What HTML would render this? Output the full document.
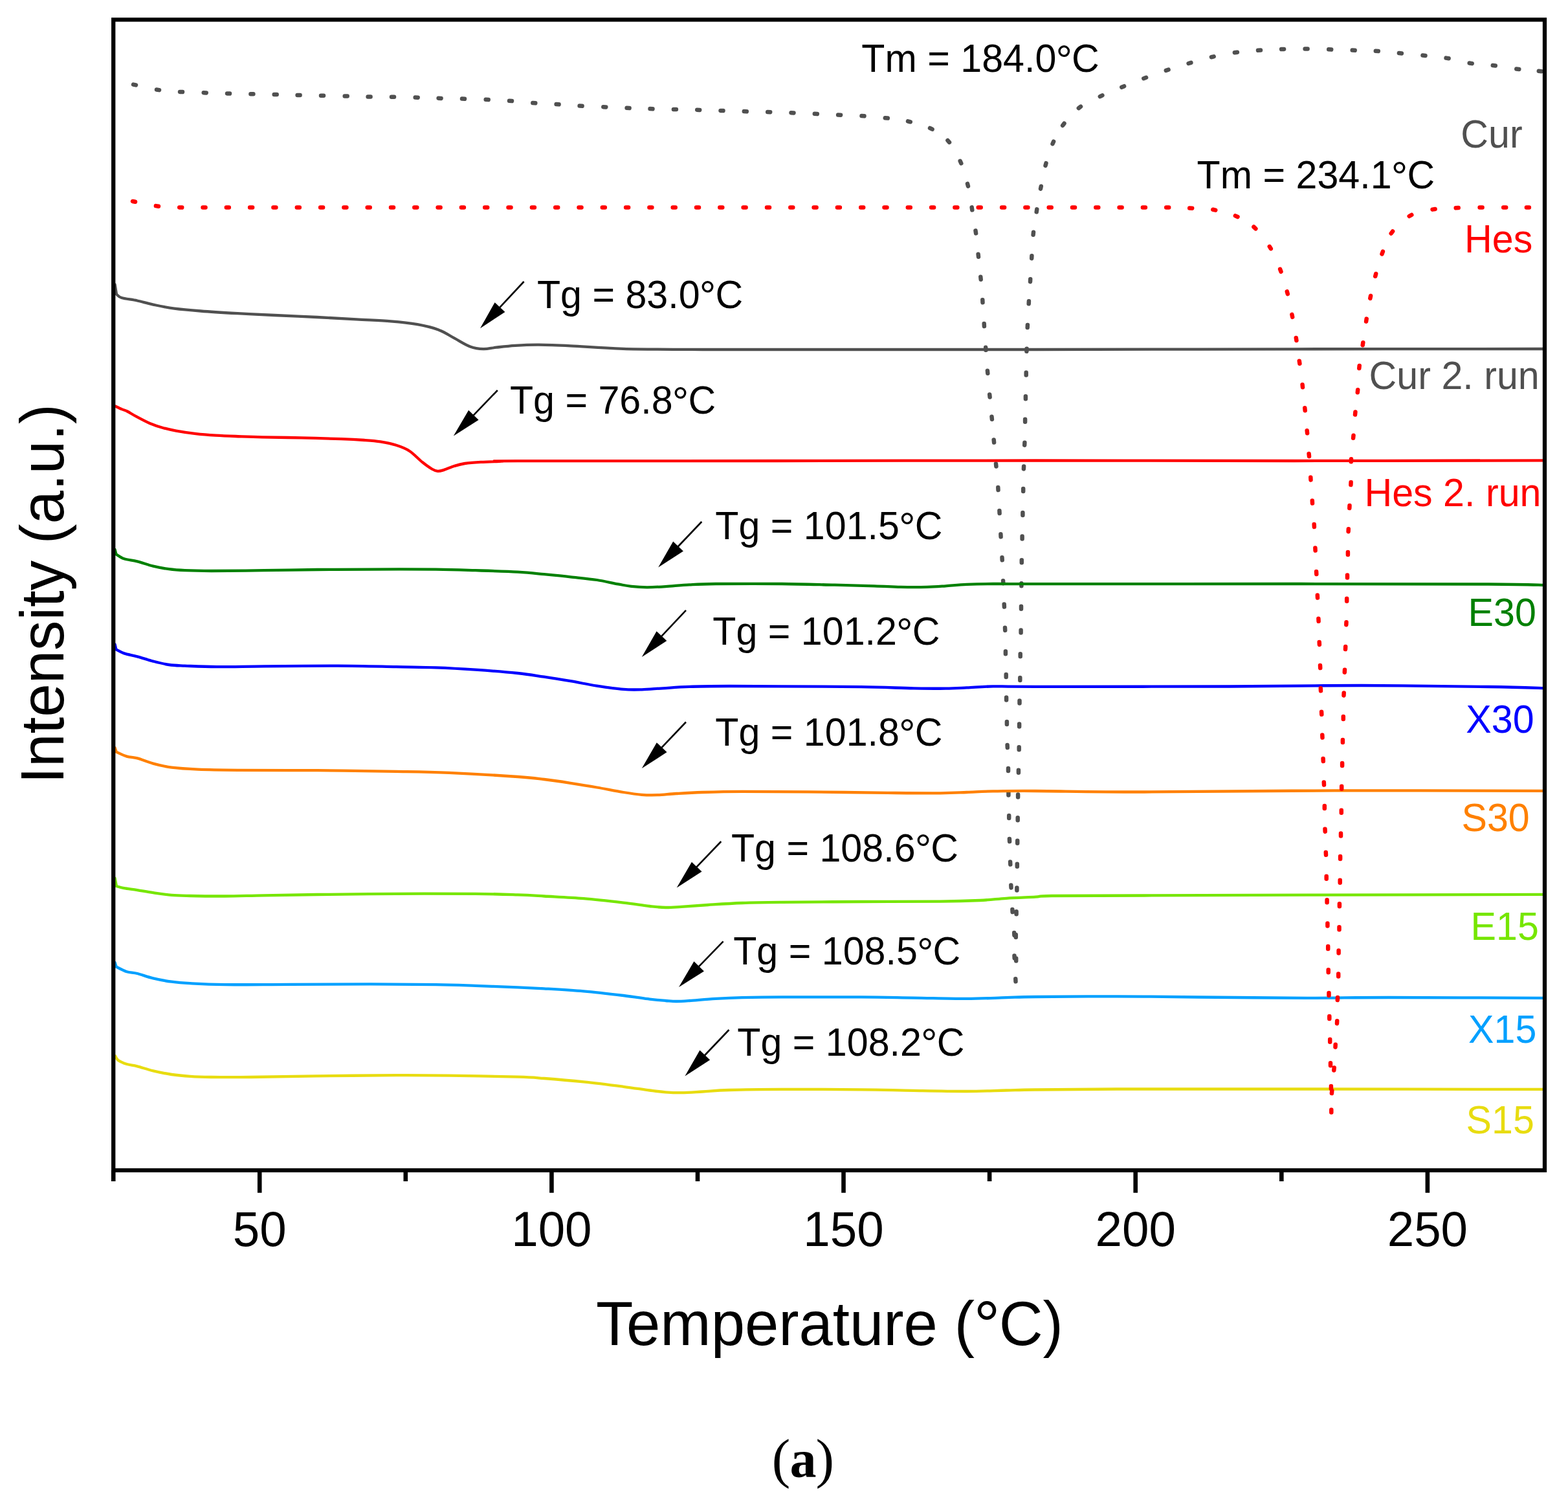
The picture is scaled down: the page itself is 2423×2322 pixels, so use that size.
<!DOCTYPE html>
<html lang="en"><head><meta charset="utf-8"><title>DSC thermograms</title>
<style>html,body{margin:0;padding:0;background:#fff}body{width:2423px;height:2322px;overflow:hidden}svg{display:block}text{font-family:"Liberation Sans",Arial,Helvetica,sans-serif;}.cap{font-family:"Liberation Serif","Times New Roman",serif}</style></head><body>
<svg width="2423" height="2322" viewBox="0 0 2423 2322">
<rect x="0" y="0" width="2423" height="2322" fill="#fff"/>
<defs><clipPath id="plot"><rect x="175.2" y="30.4" width="2211.8" height="1777.6"/></clipPath></defs>
<g clip-path="url(#plot)" fill="none" stroke-linecap="round" stroke-linejoin="round">
<path d="M206.0 130.6 L210.0 131.4 M242.0 138.5 L246.0 139.1 M278.0 141.9 L282.0 142.1 M314.7 143.2 L318.7 143.4 M351.0 144.4 L355.0 144.6 M387.4 145.3 L391.4 145.3 M423.7 146.1 L427.7 146.1 M459.6 146.9 L463.6 146.9 M496.0 147.8 L500.0 147.8 M532.7 148.6 L536.7 148.6 M568.6 149.4 L572.6 149.4 M605.0 149.8 L609.0 149.8 M641.7 150.5 L645.7 150.7 M677.6 151.7 L681.6 151.9 M714.0 152.6 L718.0 152.8 M750.7 153.8 L754.7 154.0 M787.0 155.8 L791.0 156.0 M823.3 159.1 L827.3 159.3 M859.6 161.1 L863.6 161.3 M895.6 163.6 L899.6 163.8 M932.3 165.2 L936.3 165.4 M968.6 166.8 L972.6 167.0 M1004.5 168.1 L1008.5 168.3 M1040.9 169.0 L1044.9 169.0 M1077.2 169.7 L1081.2 169.9 M1113.5 170.9 L1117.5 171.1 M1149.8 172.1 L1153.8 172.3 M1186.2 173.0 L1190.2 173.2 M1222.5 174.2 L1226.5 174.4 M1258.8 175.8 L1262.8 176.0 M1295.1 177.5 L1299.1 177.7 M1331.5 179.1 L1335.5 179.3 M1367.8 182.2 L1371.8 182.6 M1403.0 187.3 L1406.8 188.3 M1437.0 197.9 L1440.6 199.7 M1464.4 216.9 L1467.0 219.9 M1483.7 248.8 L1485.3 252.4 M1495.0 283.8 L1496.0 287.6 M1501.7 320.4 L1502.3 324.4 M1507.5 356.4 L1508.1 360.4 M1511.6 392.7 L1512.0 396.7 M1515.3 427.8 L1515.7 431.8 M1518.3 463.3 L1518.5 467.3 M1520.7 500.0 L1520.9 504.0 M1523.2 536.8 L1523.4 540.8 M1525.9 572.7 L1526.3 576.7 M1529.2 609.4 L1529.6 613.4 M1532.5 643.7 L1532.9 647.7 M1535.7 679.6 L1536.1 683.6 M1539.0 716.4 L1539.4 720.4 M1542.3 753.1 L1542.5 757.1 M1544.4 789.0 L1544.6 793.0 M1546.4 825.3 L1546.6 829.3 M1548.5 861.3 L1548.7 865.3 M1550.1 897.2 L1550.3 901.2 M1551.7 933.5 L1551.9 937.5 M1553.0 969.8 L1553.2 973.8 M1553.9 1006.2 L1553.9 1010.2 M1554.7 1042.0 L1554.7 1046.0 M1555.1 1077.6 L1555.1 1081.6 M1555.9 1115.0 L1555.9 1119.0 M1556.6 1151.0 L1556.8 1155.0 M1558.0 1187.0 L1558.0 1191.0 M1558.4 1224.5 L1558.4 1228.5 M1559.2 1260.0 L1559.2 1264.0 M1559.9 1296.0 L1560.1 1300.0 M1561.1 1331.5 L1561.3 1335.5 M1562.3 1367.4 L1562.5 1371.4 M1564.4 1405.0 L1564.6 1409.0 M1567.2 1440.9 L1567.4 1444.9 M1567.5 1476.4 L1567.7 1480.4 M1569.3 1512.3 L1569.5 1516.3 M1570.2 1484.6 L1570.2 1480.6 M1569.8 1448.0 L1569.8 1444.0 M1570.6 1412.2 L1570.6 1408.2 M1571.4 1375.5 L1571.4 1371.5 M1571.8 1338.7 L1571.8 1334.7 M1572.2 1302.8 L1572.2 1298.8 M1572.7 1267.3 L1572.7 1263.3 M1573.1 1231.4 L1573.1 1227.4 M1573.9 1193.8 L1573.9 1189.8 M1574.7 1158.3 L1574.7 1154.3 M1575.1 1122.4 L1575.1 1118.4 M1575.5 1086.5 L1575.5 1082.5 M1576.3 1051.0 L1576.3 1047.0 M1576.7 1014.2 L1576.7 1010.2 M1577.6 977.5 L1577.6 973.5 M1578.0 940.8 L1578.0 936.8 M1578.4 905.3 L1578.4 901.3 M1578.8 869.3 L1578.8 865.3 M1579.6 832.6 L1579.6 828.6 M1580.4 795.9 L1580.4 791.9 M1581.2 759.1 L1581.2 755.1 M1581.9 724.4 L1582.1 720.4 M1583.2 687.7 L1583.4 683.7 M1584.1 651.8 L1584.1 647.8 M1584.9 616.3 L1584.9 612.3 M1585.7 579.5 L1585.7 575.5 M1586.4 542.8 L1586.6 538.8 M1587.7 506.0 L1587.9 502.0 M1589.7 469.3 L1589.9 465.3 M1592.0 435.2 L1592.2 431.2 M1594.2 399.2 L1594.4 395.2 M1596.6 362.8 L1597.0 358.8 M1601.7 327.4 L1602.3 323.4 M1608.0 291.7 L1608.8 287.7 M1615.5 255.9 L1616.5 252.1 M1626.5 222.2 L1628.1 218.6 M1642.1 193.9 L1644.5 190.7 M1666.8 167.1 L1670.0 164.7 M1699.8 149.1 L1703.4 147.3 M1733.3 134.8 L1737.1 133.2 M1767.3 121.2 L1771.1 119.8 M1801.8 108.9 L1805.6 107.7 M1836.6 98.0 L1840.4 96.8 M1871.9 88.2 L1875.7 87.4 M1907.9 81.3 L1911.9 80.7 M1944.0 77.8 L1948.0 77.6 M1980.1 76.1 L1984.1 75.9 M2016.6 75.6 L2020.6 75.6 M2053.2 76.3 L2057.2 76.5 M2089.7 77.6 L2093.7 77.8 M2125.8 78.8 L2129.8 79.0 M2161.9 82.1 L2165.9 82.5 M2198.5 85.5 L2202.5 85.9 M2234.6 89.6 L2238.6 90.2 M2270.7 97.5 L2274.7 98.1 M2306.8 101.0 L2310.8 101.4 M2343.3 106.5 L2347.3 106.9 M2377.8 109.8 L2381.8 110.2" stroke="#505050" stroke-width="6.5"/>
<path d="M177.6 439.5 L180.0 454.5 M180.0 454.5 C181.3 455.4 182.5 458.3 187.8 460.0 C193.1 461.7 203.8 462.7 212.0 464.5 C220.2 466.3 227.1 468.6 236.7 470.6 C246.3 472.6 257.2 475.0 269.4 476.6 C281.6 478.2 293.7 479.2 310.0 480.5 C326.3 481.8 347.9 483.1 367.0 484.2 C386.1 485.3 404.0 486.0 424.5 487.0 C445.0 488.0 468.9 488.9 490.0 490.0 C511.1 491.1 532.0 492.2 551.0 493.3 C570.0 494.4 588.3 495.0 604.0 496.3 C619.7 497.6 632.8 499.0 645.0 501.2 C657.2 503.4 668.0 505.9 677.5 509.4 C687.0 512.9 693.8 518.0 702.0 522.4 C710.2 526.8 719.0 532.7 726.5 535.5 C734.0 538.3 740.2 539.0 747.0 539.2 C753.8 539.4 758.8 537.6 767.0 536.7 C775.2 535.8 785.0 534.6 796.0 533.9 C807.0 533.2 818.4 532.6 832.7 532.7 C847.0 532.8 859.9 533.3 881.6 534.3 C903.3 535.3 929.0 537.8 963.0 538.8 C997.0 539.8 1029.5 539.8 1085.7 540.0 C1141.9 540.2 1214.3 540.0 1300.0 540.0 C1385.7 540.0 1483.3 540.1 1600.0 540.0 C1716.7 539.9 1868.3 539.5 2000.0 539.3 C2131.7 539.1 2325.0 539.0 2390.0 539.0" stroke="#505050" stroke-width="4.3"/>
<path d="M176.0 626.4 C176.4 626.6 176.3 626.6 178.4 627.6 C180.5 628.6 185.6 631.1 188.6 632.4 C191.6 633.7 193.0 633.6 196.7 635.5 C200.4 637.4 205.2 640.6 211.0 643.7 C216.8 646.8 224.6 651.1 231.4 654.0 C238.2 656.9 245.0 659.1 251.8 661.0 C258.6 662.9 263.7 664.1 272.2 665.6 C280.7 667.1 292.7 669.0 302.9 670.2 C313.1 671.4 323.3 672.1 333.5 672.7 C343.7 673.3 352.2 673.6 364.1 674.0 C376.0 674.4 387.9 674.9 404.9 675.3 C421.9 675.7 445.7 675.9 466.1 676.4 C486.5 676.9 511.1 677.5 527.3 678.1 C543.5 678.7 553.2 679.3 563.3 680.0 C573.4 680.7 579.6 681.1 587.8 682.4 C595.9 683.7 604.7 685.4 612.2 687.8 C619.7 690.2 625.9 692.3 632.7 696.7 C639.5 701.1 647.2 709.7 653.0 714.3 C658.8 718.9 663.4 722.2 667.3 724.5 C671.2 726.8 673.2 727.5 676.3 727.8 C679.4 728.1 681.4 727.4 685.7 726.1 C690.0 724.8 696.5 721.7 702.0 720.0 C707.5 718.3 711.6 717.0 718.4 716.0 C725.2 715.0 733.4 714.4 742.9 713.9 C752.4 713.4 766.0 713.0 775.5 712.7 C785.0 712.4 729.2 712.3 800.0 712.2 C870.8 712.1 1066.7 712.1 1200.0 712.0 C1333.3 711.9 1466.7 711.5 1600.0 711.5 C1733.3 711.5 1868.3 712.0 2000.0 712.0 C2131.7 712.0 2325.0 711.4 2390.0 711.3" stroke="#ff0000" stroke-width="4.3"/>
<path d="M177.6 849.0 L179.5 856.3 M179.5 856.3 C181.6 857.5 186.4 861.5 191.8 863.3 C197.2 865.1 204.7 865.4 212.2 867.3 C219.7 869.2 228.5 872.7 236.7 874.7 C244.9 876.7 253.0 878.1 261.2 879.2 C269.4 880.3 274.8 880.7 285.7 881.2 C296.6 881.7 306.1 882.0 326.5 882.0 C346.9 882.0 380.8 881.5 408.0 881.2 C435.2 880.9 462.8 880.3 490.0 880.0 C517.2 879.7 540.8 879.7 571.4 879.6 C602.0 879.5 646.3 879.3 673.5 879.6 C700.7 879.9 713.6 880.5 734.7 881.2 C755.8 881.9 782.3 882.7 800.0 883.7 C817.7 884.7 827.2 885.9 840.8 887.2 C854.4 888.5 868.0 889.8 881.6 891.3 C895.2 892.8 910.2 894.1 922.4 896.0 C934.6 897.9 946.1 900.8 955.0 902.4 C963.9 904.0 968.0 905.1 975.5 905.9 C983.0 906.7 991.1 907.3 1000.0 907.3 C1008.9 907.3 1017.7 906.8 1028.6 906.1 C1039.5 905.4 1052.4 904.0 1065.3 903.3 C1078.2 902.6 1082.2 902.2 1106.0 902.0 C1129.8 901.8 1177.4 901.7 1208.0 902.0 C1238.6 902.3 1266.0 903.2 1289.8 903.7 C1313.6 904.2 1334.0 904.8 1351.0 905.3 C1368.0 905.8 1378.2 906.6 1391.8 906.9 C1405.4 907.2 1421.1 907.2 1432.7 906.9 C1444.3 906.6 1451.0 906.0 1461.2 905.3 C1471.4 904.6 1481.7 903.4 1493.9 902.9 C1506.2 902.4 1517.0 902.1 1534.7 902.0 C1552.4 901.9 1522.5 902.2 1600.0 902.2 C1677.5 902.2 1883.3 902.0 2000.0 902.0 C2116.7 902.0 2235.0 902.2 2300.0 902.5 C2365.0 902.8 2375.0 903.8 2390.0 904.0" stroke="#008000" stroke-width="4.3"/>
<path d="M177.6 995.5 L179.5 1003.4 M179.5 1003.4 C181.6 1004.4 186.4 1007.6 191.8 1009.4 C197.2 1011.2 204.7 1012.3 212.2 1014.3 C219.7 1016.3 228.5 1019.5 236.7 1021.6 C244.9 1023.7 253.0 1025.8 261.2 1027.0 C269.4 1028.2 273.4 1028.1 285.7 1028.6 C297.9 1029.1 314.3 1030.1 334.7 1030.2 C355.1 1030.3 376.7 1029.7 408.0 1029.4 C439.3 1029.1 488.4 1028.5 522.4 1028.6 C556.4 1028.7 587.0 1029.7 612.2 1030.2 C637.4 1030.7 653.1 1030.7 673.5 1031.4 C693.9 1032.2 713.6 1033.3 734.7 1034.7 C755.8 1036.1 782.3 1038.2 800.0 1040.0 C817.7 1041.8 827.2 1043.7 840.8 1045.7 C854.4 1047.7 868.0 1049.9 881.6 1052.2 C895.2 1054.5 908.8 1057.5 922.4 1059.6 C936.0 1061.7 951.7 1064.0 963.3 1064.9 C974.9 1065.9 981.6 1065.6 991.8 1065.3 C1002.0 1065.0 1012.2 1064.0 1024.5 1063.3 C1036.8 1062.5 1048.3 1061.3 1065.3 1060.8 C1082.3 1060.2 1102.7 1060.1 1126.5 1060.0 C1150.3 1059.9 1174.0 1060.2 1208.0 1060.4 C1242.0 1060.6 1296.6 1060.7 1330.6 1061.2 C1364.6 1061.7 1390.2 1062.9 1412.0 1063.3 C1433.8 1063.7 1447.5 1063.8 1461.2 1063.7 C1474.9 1063.6 1481.7 1063.0 1493.9 1062.4 C1506.2 1061.9 1517.0 1060.7 1534.7 1060.4 C1552.4 1060.1 1539.1 1060.8 1600.0 1060.8 C1660.9 1060.8 1816.0 1060.8 1900.0 1060.5 C1984.0 1060.2 2037.3 1058.9 2104.0 1059.0 C2170.7 1059.1 2252.3 1060.3 2300.0 1061.0 C2347.7 1061.7 2375.0 1062.8 2390.0 1063.2" stroke="#0000ff" stroke-width="4.3"/>
<path d="M177.6 1155.3 L179.7 1161.6 M179.7 1161.6 C182.4 1162.8 190.6 1167.0 196.0 1168.6 C201.4 1170.2 205.4 1169.6 212.2 1171.4 C219.0 1173.2 227.8 1177.2 236.7 1179.6 C245.5 1182.0 253.8 1184.2 265.3 1185.7 C276.9 1187.2 289.0 1187.9 306.0 1188.6 C323.0 1189.3 336.6 1189.5 367.3 1189.8 C398.0 1190.1 449.2 1189.9 490.0 1190.2 C530.8 1190.5 578.2 1191.2 612.2 1191.8 C646.2 1192.4 662.7 1192.5 694.0 1193.9 C725.3 1195.3 775.5 1198.3 800.0 1200.0 C824.5 1201.7 827.2 1202.4 840.8 1204.0 C854.4 1205.6 868.0 1207.7 881.6 1209.8 C895.2 1211.9 908.8 1214.1 922.4 1216.5 C936.0 1218.9 951.7 1222.1 963.3 1224.0 C974.9 1225.9 983.0 1227.1 991.8 1227.8 C1000.6 1228.5 1007.4 1228.5 1016.3 1228.2 C1025.2 1227.9 1033.4 1226.7 1045.0 1226.0 C1056.6 1225.3 1068.7 1224.5 1085.7 1224.0 C1102.7 1223.5 1119.8 1223.0 1147.0 1222.9 C1174.2 1222.8 1211.6 1223.0 1249.0 1223.3 C1286.4 1223.6 1337.4 1224.6 1371.4 1224.9 C1405.4 1225.2 1432.6 1225.5 1453.0 1225.3 C1473.4 1225.1 1480.3 1224.5 1493.9 1224.0 C1507.5 1223.5 1517.0 1222.7 1534.7 1222.4 C1552.4 1222.1 1561.1 1221.8 1600.0 1222.0 C1638.9 1222.2 1691.0 1223.6 1768.0 1223.5 C1845.0 1223.4 1958.3 1221.7 2062.0 1221.4 C2165.7 1221.1 2335.3 1221.7 2390.0 1221.8" stroke="#ff8000" stroke-width="4.3"/>
<path d="M177.6 1356.6 L179.9 1369.0 M179.9 1369.0 C181.9 1369.5 186.4 1371.2 191.8 1372.2 C197.2 1373.2 204.7 1373.9 212.2 1375.1 C219.7 1376.3 227.8 1377.9 236.7 1379.2 C245.5 1380.5 255.8 1382.1 265.3 1382.9 C274.8 1383.7 280.3 1383.7 293.9 1384.0 C307.5 1384.3 328.0 1384.6 347.0 1384.5 C366.0 1384.4 384.2 1383.7 408.0 1383.3 C431.8 1382.9 456.0 1382.4 490.0 1382.0 C524.0 1381.6 571.4 1381.0 612.2 1380.8 C653.0 1380.6 703.4 1380.5 734.7 1380.8 C766.0 1381.1 782.3 1381.8 800.0 1382.4 C817.7 1383.0 823.8 1383.5 840.8 1384.5 C857.8 1385.5 881.6 1386.5 902.0 1388.2 C922.4 1389.9 946.3 1392.7 963.3 1394.7 C980.3 1396.7 993.1 1398.8 1004.0 1400.0 C1014.9 1401.2 1020.4 1401.9 1028.6 1402.0 C1036.8 1402.1 1042.1 1401.5 1053.0 1400.8 C1063.9 1400.1 1078.3 1399.0 1094.0 1398.0 C1109.7 1397.0 1128.0 1395.7 1147.0 1395.0 C1166.0 1394.3 1177.4 1394.2 1208.0 1393.9 C1238.6 1393.6 1289.8 1393.2 1330.6 1393.0 C1371.4 1392.8 1422.4 1393.0 1453.0 1392.7 C1483.6 1392.4 1497.3 1391.8 1514.3 1391.0 C1531.3 1390.2 1540.7 1388.7 1555.0 1387.8 C1569.3 1386.9 1588.3 1386.3 1600.0 1385.7 C1611.7 1385.1 1597.0 1384.4 1625.0 1384.0 C1653.0 1383.6 1702.2 1383.7 1768.0 1383.5 C1833.8 1383.3 1916.3 1383.0 2020.0 1382.7 C2123.7 1382.4 2328.3 1382.0 2390.0 1381.8" stroke="#76e600" stroke-width="4.3"/>
<path d="M177.6 1487.0 L179.7 1493.6 M179.7 1493.6 C182.4 1494.9 190.6 1499.5 196.0 1501.2 C201.4 1502.9 205.4 1502.3 212.2 1504.0 C219.0 1505.7 227.8 1509.3 236.7 1511.4 C245.5 1513.5 255.8 1515.4 265.3 1516.7 C274.8 1518.0 280.3 1518.5 293.9 1519.2 C307.5 1520.0 321.1 1520.9 347.0 1521.2 C372.9 1521.5 411.6 1520.9 449.0 1520.8 C486.4 1520.7 534.0 1520.3 571.4 1520.4 C608.8 1520.5 646.3 1520.8 673.5 1521.2 C700.7 1521.6 713.6 1522.2 734.7 1522.9 C755.8 1523.6 782.3 1524.6 800.0 1525.3 C817.7 1526.0 823.8 1526.3 840.8 1527.3 C857.8 1528.3 881.6 1529.6 902.0 1531.4 C922.4 1533.2 946.3 1536.0 963.3 1538.0 C980.3 1540.0 993.1 1542.4 1004.0 1543.7 C1014.9 1545.0 1021.8 1545.5 1028.6 1546.0 C1035.4 1546.5 1038.9 1547.0 1045.0 1547.0 C1051.1 1547.0 1055.1 1546.7 1065.3 1546.0 C1075.5 1545.3 1092.4 1543.7 1106.0 1542.9 C1119.6 1542.1 1130.0 1541.6 1147.0 1541.2 C1164.0 1540.8 1177.4 1540.5 1208.0 1540.4 C1238.6 1540.3 1296.6 1540.2 1330.6 1540.4 C1364.6 1540.6 1384.8 1541.2 1412.0 1541.6 C1439.2 1542.0 1470.1 1543.0 1493.9 1542.9 C1517.7 1542.8 1537.3 1541.7 1555.0 1541.2 C1572.7 1540.7 1571.5 1540.3 1600.0 1540.0 C1628.5 1539.7 1684.0 1539.2 1726.0 1539.3 C1768.0 1539.4 1803.0 1540.1 1852.0 1540.5 C1901.0 1540.9 1971.0 1541.7 2020.0 1541.8 C2069.0 1541.9 2084.3 1541.0 2146.0 1541.0 C2207.7 1541.0 2349.3 1541.7 2390.0 1541.8" stroke="#00a0ff" stroke-width="4.3"/>
<path d="M178.2 1631.5 C178.9 1632.6 179.6 1635.9 182.6 1638.0 C185.6 1640.1 191.1 1642.5 196.0 1644.0 C200.9 1645.5 205.4 1645.6 212.2 1647.3 C219.0 1649.0 227.8 1652.2 236.7 1654.3 C245.5 1656.4 255.8 1658.6 265.3 1660.0 C274.8 1661.4 283.7 1662.2 293.9 1662.9 C304.1 1663.6 310.9 1663.8 326.5 1664.0 C342.1 1664.2 360.6 1664.3 387.8 1664.0 C415.1 1663.7 452.6 1662.9 490.0 1662.4 C527.4 1661.9 578.2 1661.3 612.2 1661.2 C646.2 1661.1 662.7 1661.2 694.0 1661.6 C725.3 1662.0 775.5 1663.0 800.0 1663.7 C824.5 1664.4 823.8 1664.7 840.8 1666.0 C857.8 1667.3 881.6 1669.3 902.0 1671.4 C922.4 1673.5 946.3 1676.6 963.3 1678.8 C980.3 1681.0 993.1 1683.1 1004.0 1684.5 C1014.9 1685.9 1020.4 1686.7 1028.6 1687.3 C1036.8 1687.9 1043.5 1688.3 1053.0 1688.2 C1062.5 1688.1 1073.5 1687.2 1085.7 1686.5 C1098.0 1685.8 1106.1 1684.6 1126.5 1684.0 C1146.9 1683.4 1174.0 1683.0 1208.0 1682.9 C1242.0 1682.8 1296.6 1683.0 1330.6 1683.3 C1364.6 1683.6 1384.8 1684.5 1412.0 1684.9 C1439.2 1685.4 1470.1 1686.1 1493.9 1686.0 C1517.7 1685.9 1537.3 1684.9 1555.0 1684.5 C1572.7 1684.1 1571.5 1683.8 1600.0 1683.5 C1628.5 1683.2 1656.0 1682.7 1726.0 1682.5 C1796.0 1682.3 1909.3 1682.4 2020.0 1682.5 C2130.7 1682.6 2328.3 1682.8 2390.0 1682.9" stroke="#e8dc10" stroke-width="4.3"/>
<path d="M205.0 311.0 L209.0 311.8 M240.9 318.1 L244.9 318.7 M277.2 320.4 L281.2 320.6 M313.5 320.5 L317.5 320.5 M349.8 320.5 L353.8 320.5 M386.1 320.5 L390.1 320.5 M422.4 320.5 L426.4 320.5 M458.8 320.5 L462.8 320.5 M495.1 320.5 L499.1 320.5 M531.4 320.5 L535.4 320.5 M567.7 320.5 L571.7 320.5 M604.0 320.5 L608.0 320.5 M640.3 320.5 L644.3 320.5 M676.6 320.5 L680.6 320.5 M712.9 320.5 L716.9 320.5 M749.2 320.5 L753.2 320.5 M785.5 320.5 L789.5 320.5 M821.9 320.5 L825.9 320.5 M858.2 320.5 L862.2 320.5 M894.5 320.5 L898.5 320.5 M930.8 320.5 L934.8 320.5 M967.1 320.5 L971.1 320.5 M1003.4 320.5 L1007.4 320.5 M1039.7 320.5 L1043.7 320.5 M1076.0 320.5 L1080.0 320.5 M1112.3 320.5 L1116.3 320.5 M1148.6 320.5 L1152.6 320.5 M1185.0 320.5 L1189.0 320.5 M1221.3 320.5 L1225.3 320.5 M1257.6 320.5 L1261.6 320.5 M1293.9 320.5 L1297.9 320.5 M1330.2 320.5 L1334.2 320.5 M1366.5 320.5 L1370.5 320.5 M1402.8 320.5 L1406.8 320.5 M1439.1 320.5 L1443.1 320.5 M1475.4 320.5 L1479.4 320.5 M1511.7 320.5 L1515.7 320.5 M1548.1 320.5 L1552.1 320.5 M1584.4 320.5 L1588.4 320.5 M1620.7 320.5 L1624.7 320.5 M1657.0 320.5 L1661.0 320.5 M1693.3 320.5 L1697.3 320.5 M1729.6 320.5 L1733.6 320.5 M1765.9 320.5 L1769.9 320.5 M1802.2 320.5 L1806.2 320.5 M1838.2 321.5 L1842.2 321.7 M1874.3 323.8 L1878.3 324.6 M1908.9 333.4 L1912.5 335.0 M1937.4 350.5 L1940.4 353.3 M1961.8 380.8 L1963.8 384.2 M1978.1 415.9 L1979.5 419.7 M1988.8 450.3 L1989.8 454.1 M1996.4 485.9 L1997.2 489.9 M2002.8 522.0 L2003.4 526.0 M2007.8 557.7 L2008.4 561.7 M2012.6 594.3 L2013.0 598.3 M2016.3 630.3 L2016.7 634.3 M2019.7 665.2 L2020.1 669.2 M2022.6 700.9 L2023.0 704.9 M2025.3 737.4 L2025.5 741.4 M2027.8 773.5 L2028.0 777.5 M2030.7 810.0 L2030.9 814.0 M2032.4 846.6 L2032.6 850.6 M2034.1 883.1 L2034.3 887.1 M2035.8 919.6 L2036.0 923.6 M2037.4 955.8 L2037.6 959.8 M2038.7 991.9 L2038.9 995.9 M2040.0 1028.0 L2040.2 1032.0 M2040.8 1063.3 L2041.0 1067.3 M2042.1 1099.8 L2042.3 1103.8 M2043.3 1135.5 L2043.5 1139.5 M2044.6 1172.0 L2044.8 1176.0 M2045.8 1208.5 L2046.0 1212.5 M2046.8 1245.0 L2046.8 1249.0 M2047.5 1280.7 L2047.7 1284.7 M2048.8 1316.8 L2049.0 1320.8 M2049.7 1353.8 L2049.7 1357.8 M2050.6 1390.3 L2050.6 1394.3 M2051.4 1426.4 L2051.4 1430.4 M2052.2 1462.1 L2052.2 1466.1 M2052.7 1498.2 L2052.7 1502.2 M2053.5 1533.9 L2053.5 1537.9 M2054.3 1570.0 L2054.3 1574.0 M2055.2 1605.7 L2055.2 1609.7 M2056.0 1642.3 L2056.0 1646.3 M2056.9 1678.0 L2056.9 1682.0 M2057.3 1714.5 L2057.3 1718.5 M2057.9 1689.1 L2058.3 1685.1 M2061.3 1653.4 L2061.7 1649.4 M2063.5 1617.7 L2063.7 1613.7 M2066.0 1581.2 L2066.2 1577.2 M2066.8 1545.1 L2067.0 1541.1 M2068.2 1508.5 L2068.2 1504.5 M2068.6 1472.4 L2068.6 1468.4 M2069.5 1436.3 L2069.5 1432.3 M2069.9 1400.2 L2069.9 1396.2 M2070.7 1363.7 L2070.7 1359.7 M2071.1 1327.1 L2071.1 1323.1 M2072.0 1291.4 L2072.0 1287.4 M2072.8 1255.7 L2072.8 1251.7 M2073.2 1218.8 L2073.2 1214.8 M2074.1 1183.1 L2074.1 1179.1 M2074.9 1147.0 L2074.9 1143.0 M2075.8 1110.9 L2075.8 1106.9 M2076.5 1074.4 L2076.7 1070.4 M2077.8 1038.7 L2078.0 1034.7 M2079.0 1003.0 L2079.2 999.0 M2080.3 965.2 L2080.5 961.2 M2081.2 928.7 L2081.2 924.7 M2082.0 892.6 L2082.0 888.6 M2082.9 856.9 L2082.9 852.9 M2083.6 821.2 L2083.8 817.2 M2085.3 785.1 L2085.5 781.1 M2087.4 749.0 L2087.6 745.0 M2087.8 713.3 L2088.0 709.3 M2091.1 676.7 L2091.5 672.7 M2094.0 640.6 L2094.4 636.6 M2097.8 606.2 L2098.2 602.2 M2100.3 568.9 L2100.7 564.9 M2105.7 533.2 L2106.3 529.2 M2111.1 496.6 L2111.7 492.6 M2117.3 461.0 L2118.1 457.0 M2125.2 426.8 L2126.2 423.0 M2135.5 392.4 L2136.9 388.6 M2149.7 360.6 L2152.1 357.4 M2177.7 334.0 L2181.3 332.0 M2213.6 323.6 L2217.6 323.0 M2249.7 321.3 L2253.7 321.1 M2286.6 320.5 L2290.6 320.5 M2323.2 320.5 L2327.2 320.5 M2358.9 320.5 L2362.9 320.5" stroke="#ff0000" stroke-width="6.5"/>
</g>
<rect x="175.2" y="30.4" width="2211.8" height="1777.6" fill="none" stroke="#000" stroke-width="6.3"/>
<path d="M175.2 1807.9 V1825.0 M401.2 1807.9 V1842.8 M626.8 1807.9 V1825.0 M852.4 1807.9 V1842.8 M1078.0 1807.9 V1825.0 M1303.5 1807.9 V1842.8 M1529.1 1807.9 V1825.0 M1754.7 1807.9 V1842.8 M1980.3 1807.9 V1825.0 M2205.9 1807.9 V1842.8" stroke="#000" stroke-width="6.6" fill="none"/>
<text transform="translate(401.2 1925.4) scale(1 1.030)" font-size="74.5" text-anchor="middle">50</text>
<text transform="translate(852.4 1925.4) scale(1 1.030)" font-size="74.5" text-anchor="middle">100</text>
<text transform="translate(1303.5 1925.4) scale(1 1.030)" font-size="74.5" text-anchor="middle">150</text>
<text transform="translate(1754.7 1925.4) scale(1 1.030)" font-size="74.5" text-anchor="middle">200</text>
<text transform="translate(2205.9 1925.4) scale(1 1.030)" font-size="74.5" text-anchor="middle">250</text>
<text transform="translate(1282.0 2077.6) scale(1 1.030)" font-size="94.0" text-anchor="middle" aria-label="Temperature (°C)">Temperature (<tspan dy="5.6" dx="-1.5" font-size="101.5">°</tspan><tspan dy="-5.6" dx="-1.5">C)</tspan></text>
<text transform="translate(98.4 917.5) rotate(-90) scale(1 1.030)" font-size="92.6" text-anchor="middle">Intensity (a.u.)</text>
<text transform="translate(1331.3 111.4) scale(1 1.025)" font-size="59.2" aria-label="Tm = 184.0°C">Tm = 184.0<tspan dy="3.6" dx="-0.9" font-size="63.9">°</tspan><tspan dy="-3.6" dx="-0.9">C</tspan></text>
<text transform="translate(1849.6 291.0) scale(1 1.025)" font-size="59.2" aria-label="Tm = 234.1°C">Tm = 234.1<tspan dy="3.6" dx="-0.9" font-size="63.9">°</tspan><tspan dy="-3.6" dx="-0.9">C</tspan></text>
<text transform="translate(2257.3 228.0) scale(1 1.025)" font-size="59.2" fill="#505050">Cur</text>
<text transform="translate(2263.0 389.7) scale(1 1.025)" font-size="59.2" fill="#ff0000">Hes</text>
<text transform="translate(2115.6 600.6) scale(1 1.025)" font-size="59.2" fill="#505050">Cur 2. run</text>
<text transform="translate(2108.4 782.2) scale(1 1.025)" font-size="59.2" fill="#ff0000">Hes 2. run</text>
<text transform="translate(2268.5 967.4) scale(1 1.025)" font-size="59.2" fill="#008000">E30</text>
<text transform="translate(2265.3 1132.0) scale(1 1.025)" font-size="59.2" fill="#0000ff">X30</text>
<text transform="translate(2258.4 1283.8) scale(1 1.025)" font-size="59.2" fill="#ff8000">S30</text>
<text transform="translate(2272.5 1452.0) scale(1 1.025)" font-size="59.2" fill="#76e600">E15</text>
<text transform="translate(2269.0 1610.7) scale(1 1.025)" font-size="59.2" fill="#00a0ff">X15</text>
<text transform="translate(2265.5 1750.9) scale(1 1.025)" font-size="59.2" fill="#e8dc10">S15</text>
<text transform="translate(829.9 475.7) scale(1 1.025)" font-size="59.2" aria-label="Tg = 83.0°C">Tg = 83.0<tspan dy="3.6" dx="-0.9" font-size="63.9">°</tspan><tspan dy="-3.6" dx="-0.9">C</tspan></text>
<text transform="translate(787.9 639.3) scale(1 1.025)" font-size="59.2" aria-label="Tg = 76.8°C">Tg = 76.8<tspan dy="3.6" dx="-0.9" font-size="63.9">°</tspan><tspan dy="-3.6" dx="-0.9">C</tspan></text>
<text transform="translate(1105.3 833.4) scale(1 1.025)" font-size="59.2" aria-label="Tg = 101.5°C">Tg = 101.5<tspan dy="3.6" dx="-0.9" font-size="63.9">°</tspan><tspan dy="-3.6" dx="-0.9">C</tspan></text>
<text transform="translate(1101.3 996.1) scale(1 1.025)" font-size="59.2" aria-label="Tg = 101.2°C">Tg = 101.2<tspan dy="3.6" dx="-0.9" font-size="63.9">°</tspan><tspan dy="-3.6" dx="-0.9">C</tspan></text>
<text transform="translate(1105.3 1152.0) scale(1 1.025)" font-size="59.2" aria-label="Tg = 101.8°C">Tg = 101.8<tspan dy="3.6" dx="-0.9" font-size="63.9">°</tspan><tspan dy="-3.6" dx="-0.9">C</tspan></text>
<text transform="translate(1129.9 1330.7) scale(1 1.025)" font-size="59.2" aria-label="Tg = 108.6°C">Tg = 108.6<tspan dy="3.6" dx="-0.9" font-size="63.9">°</tspan><tspan dy="-3.6" dx="-0.9">C</tspan></text>
<text transform="translate(1133.2 1489.9) scale(1 1.025)" font-size="59.2" aria-label="Tg = 108.5°C">Tg = 108.5<tspan dy="3.6" dx="-0.9" font-size="63.9">°</tspan><tspan dy="-3.6" dx="-0.9">C</tspan></text>
<text transform="translate(1139.3 1630.7) scale(1 1.025)" font-size="59.2" aria-label="Tg = 108.2°C">Tg = 108.2<tspan dy="3.6" dx="-0.9" font-size="63.9">°</tspan><tspan dy="-3.6" dx="-0.9">C</tspan></text>
<path d="M809.6 435.0 L771.2 476.1" stroke="#000" stroke-width="2.6" fill="none"/>
<path d="M742.0 507.3 L764.6 467.3 L780.4 482.0 Z" fill="#000"/>
<path d="M768.8 603.0 L730.4 642.8" stroke="#000" stroke-width="2.6" fill="none"/>
<path d="M700.8 673.5 L724.1 633.8 L739.6 648.8 Z" fill="#000"/>
<path d="M1084.3 806.0 L1046.7 845.5" stroke="#000" stroke-width="2.6" fill="none"/>
<path d="M1017.2 876.4 L1040.2 836.6 L1055.9 851.5 Z" fill="#000"/>
<path d="M1060.0 942.9 L1021.1 984.1" stroke="#000" stroke-width="2.6" fill="none"/>
<path d="M991.8 1015.1 L1014.6 975.2 L1030.3 990.0 Z" fill="#000"/>
<path d="M1060.0 1115.5 L1021.3 1156.1" stroke="#000" stroke-width="2.6" fill="none"/>
<path d="M991.8 1187.0 L1014.8 1147.2 L1030.5 1162.1 Z" fill="#000"/>
<path d="M1114.3 1300.0 L1075.3 1340.6" stroke="#000" stroke-width="2.6" fill="none"/>
<path d="M1045.7 1371.4 L1068.9 1331.7 L1084.5 1346.6 Z" fill="#000"/>
<path d="M1117.6 1454.3 L1078.8 1494.3" stroke="#000" stroke-width="2.6" fill="none"/>
<path d="M1049.0 1524.9 L1072.4 1485.3 L1087.9 1500.4 Z" fill="#000"/>
<path d="M1126.5 1591.0 L1087.9 1631.5" stroke="#000" stroke-width="2.6" fill="none"/>
<path d="M1058.4 1662.4 L1081.4 1622.6 L1097.1 1637.5 Z" fill="#000"/>
<text class="cap" aria-label="(a)" y="2282.2" font-size="85.6"><tspan x="1192.7">(</tspan><tspan x="1220.5" font-size="82.0" font-weight="bold">a</tspan><tspan x="1260.5">)</tspan></text>
</svg></body></html>
